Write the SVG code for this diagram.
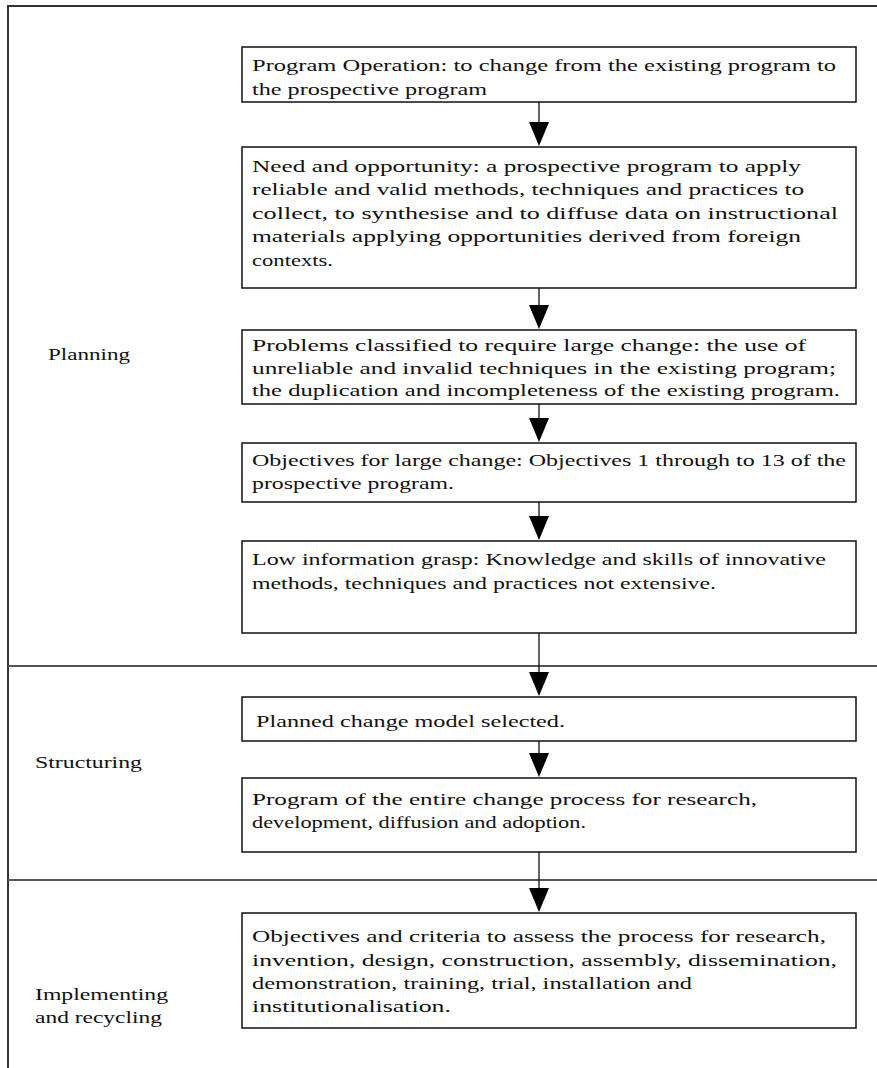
<svg xmlns="http://www.w3.org/2000/svg" width="877" height="1068" viewBox="0 0 877 1068">
<style>
  .box{fill:#fff;stroke:#111;stroke-width:1.5}
  .t{font-family:"Liberation Serif","Times New Roman",serif;font-size:17px;fill:#111}
  .frame{stroke:#333;stroke-width:2;fill:none}
  .sep{stroke:#555;stroke-width:2}
  .ln{stroke:#111;stroke-width:1.3}
  .hd{fill:#000}
</style>
<rect width="877" height="1068" fill="#fff"/>
<g id="frame">
  <path class="frame" d="M8,1068 L8,6 L877,6"/>
  <line class="sep" x1="8" y1="666" x2="877" y2="666"/>
  <line class="sep" x1="8" y1="880" x2="877" y2="880"/>
</g>
<g id="connectors">
  <line class="ln" x1="539" y1="102" x2="539" y2="122"/><polygon class="hd" points="529,122 549,122 539,146"/>
  <line class="ln" x1="539" y1="288" x2="539" y2="305"/><polygon class="hd" points="529,305 549,305 539,329"/>
  <line class="ln" x1="539" y1="404" x2="539" y2="418"/><polygon class="hd" points="529,418 549,418 539,442"/>
  <line class="ln" x1="539" y1="502" x2="539" y2="516"/><polygon class="hd" points="529,516 549,516 539,540"/>
  <line class="ln" x1="539" y1="633" x2="539" y2="672"/><polygon class="hd" points="529,672 549,672 539,696"/>
  <line class="ln" x1="539" y1="741" x2="539" y2="753"/><polygon class="hd" points="529,753 549,753 539,777"/>
  <line class="ln" x1="539" y1="852" x2="539" y2="888"/><polygon class="hd" points="529,888 549,888 539,912"/>
</g>
<g id="label-planning"><text class="t" x="48" y="360" textLength="82" lengthAdjust="spacingAndGlyphs">Planning</text></g>
<g id="label-structuring"><text class="t" x="35" y="768" textLength="107" lengthAdjust="spacingAndGlyphs">Structuring</text></g>
<g id="label-implementing">
  <text class="t" x="35" y="1000" textLength="133" lengthAdjust="spacingAndGlyphs">Implementing</text>
  <text class="t" x="35" y="1023" textLength="127" lengthAdjust="spacingAndGlyphs">and recycling</text>
</g>
<g id="node-1">
  <rect class="box" x="242" y="47" width="614" height="55"/>
  <text class="t" x="252" y="71" textLength="584" lengthAdjust="spacingAndGlyphs">Program Operation: to change from the existing program to</text>
  <text class="t" x="252" y="95" textLength="235" lengthAdjust="spacingAndGlyphs">the prospective program</text>
</g>
<g id="node-2">
  <rect class="box" x="242" y="147" width="614" height="141"/>
  <text class="t" x="252" y="172" textLength="549" lengthAdjust="spacingAndGlyphs">Need and opportunity: a prospective program to apply</text>
  <text class="t" x="252" y="195" textLength="552" lengthAdjust="spacingAndGlyphs">reliable and valid methods, techniques and practices to</text>
  <text class="t" x="252" y="219" textLength="586" lengthAdjust="spacingAndGlyphs">collect, to synthesise and to diffuse data on instructional</text>
  <text class="t" x="252" y="242" textLength="549" lengthAdjust="spacingAndGlyphs">materials applying opportunities derived from foreign</text>
  <text class="t" x="252" y="266" textLength="81" lengthAdjust="spacingAndGlyphs">contexts.</text>
</g>
<g id="node-3">
  <rect class="box" x="242" y="330" width="614" height="74"/>
  <text class="t" x="252" y="351" textLength="554" lengthAdjust="spacingAndGlyphs">Problems classified to require large change: the use of</text>
  <text class="t" x="252" y="374" textLength="584" lengthAdjust="spacingAndGlyphs">unreliable and invalid techniques in the existing program;</text>
  <text class="t" x="252" y="396" textLength="588" lengthAdjust="spacingAndGlyphs">the duplication and incompleteness of the existing program.</text>
</g>
<g id="node-4">
  <rect class="box" x="242" y="443" width="614" height="59"/>
  <text class="t" x="252" y="466" textLength="594" lengthAdjust="spacingAndGlyphs">Objectives for large change: Objectives 1 through to 13 of the</text>
  <text class="t" x="252" y="489" textLength="202" lengthAdjust="spacingAndGlyphs">prospective program.</text>
</g>
<g id="node-5">
  <rect class="box" x="242" y="541" width="614" height="92"/>
  <text class="t" x="252" y="565" textLength="574" lengthAdjust="spacingAndGlyphs">Low information grasp: Knowledge and skills of innovative</text>
  <text class="t" x="252" y="589" textLength="464" lengthAdjust="spacingAndGlyphs">methods, techniques and practices not extensive.</text>
</g>
<g id="node-6">
  <rect class="box" x="242" y="697" width="614" height="44"/>
  <text class="t" x="256" y="727" textLength="309" lengthAdjust="spacingAndGlyphs">Planned change model selected.</text>
</g>
<g id="node-7">
  <rect class="box" x="242" y="778" width="614" height="74"/>
  <text class="t" x="252" y="805" textLength="505" lengthAdjust="spacingAndGlyphs">Program of the entire change process for research,</text>
  <text class="t" x="252" y="828" textLength="334" lengthAdjust="spacingAndGlyphs">development, diffusion and adoption.</text>
</g>
<g id="node-8">
  <rect class="box" x="242" y="913" width="614" height="115"/>
  <text class="t" x="252" y="942" textLength="574" lengthAdjust="spacingAndGlyphs">Objectives and criteria to assess the process for research,</text>
  <text class="t" x="252" y="966" textLength="585" lengthAdjust="spacingAndGlyphs">invention, design, construction, assembly, dissemination,</text>
  <text class="t" x="252" y="989" textLength="440" lengthAdjust="spacingAndGlyphs">demonstration, training, trial, installation and</text>
  <text class="t" x="252" y="1012" textLength="199" lengthAdjust="spacingAndGlyphs">institutionalisation.</text>
</g>
</svg>
